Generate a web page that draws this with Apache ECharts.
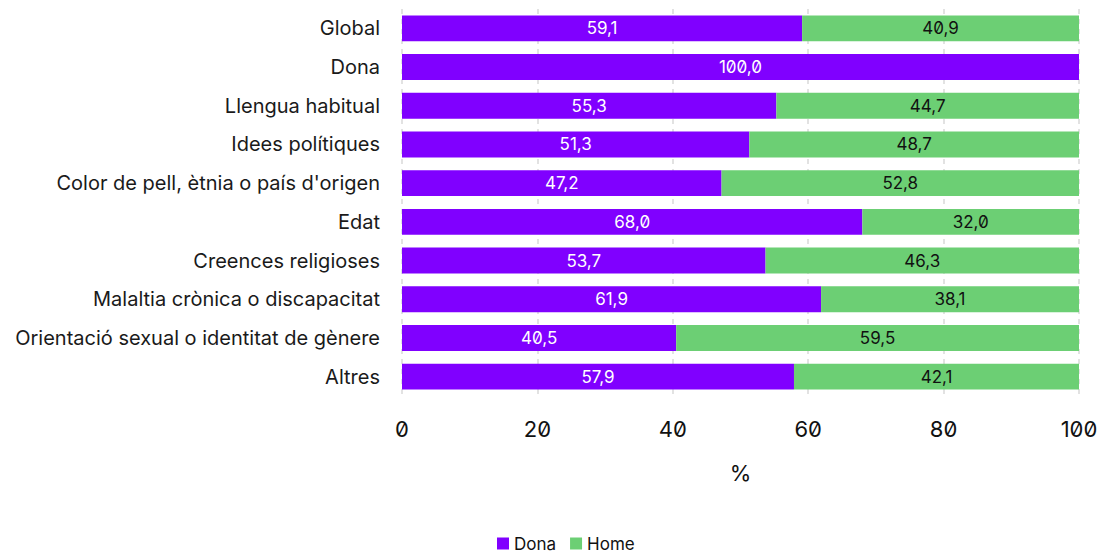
<!DOCTYPE html>
<html><head><meta charset="utf-8">
<script src="https://cdn.jsdelivr.net/npm/echarts@6/dist/echarts.min.js"></script>
<style>
html,body{margin:0;padding:0;background:#fff;}
#c{width:1105px;height:557px;}
#c text{font-feature-settings:"zero" 1;}
</style></head><body><div id="c"></div>
<script>
const categories = ["Global","Dona","Llengua habitual","Idees polítiques","Color de pell, ètnia o país d'origen","Edat","Creences religioses","Malaltia crònica o discapacitat","Orientació sexual o identitat de gènere","Altres"];
const dona = [59.1,100.0,55.3,51.3,47.2,68.0,53.7,61.9,40.5,57.9];
const home = [40.9,0,44.7,48.7,52.8,32.0,46.3,38.1,59.5,42.1];
const xTicks = [0,20,40,60,80,100];
const FONT = "Inter";
const fmt = p => p.value > 0 ? p.value.toFixed(1).replace('.', ',') : '';
const chart = echarts.init(document.getElementById('c'), null, {renderer:'svg'});
chart.setOption({
  animation:false,
  textStyle:{fontFamily:FONT},
  grid:{left:402,right:26,top:9,bottom:161},
  legend:{top:533,left:495,padding:2,itemWidth:12,itemHeight:12,itemGap:14,icon:'rect',
    textStyle:{fontSize:17,color:'#111',fontFamily:FONT}, data:['Dona','Home']},
  xAxis:{type:'value',min:0,max:100,interval:20,
    name:'%',nameLocation:'middle',nameGap:66,nameTextStyle:{fontSize:22,color:'#111',fontFamily:FONT},
    axisLine:{show:false},axisTick:{show:false},
    axisLabel:{fontSize:22,color:'#111',margin:22,fontFamily:FONT},
    splitLine:{show:true,lineStyle:{color:'#d9d9d9',type:[5,5],width:1.5}}},
  yAxis:{type:'category',data:categories,inverse:true,
    axisLine:{show:false},axisTick:{show:false},
    axisLabel:{fontSize:20,color:'#1a1a1a',margin:22,fontFamily:FONT}},
  series:[
    {name:'Dona',type:'bar',stack:'t',data:dona,barCategoryGap:'33%',
     itemStyle:{color:'#8000ff'},
     label:{show:true,position:'inside',color:'#fff',fontSize:17,fontFamily:FONT,formatter:fmt}},
    {name:'Home',type:'bar',stack:'t',data:home,
     itemStyle:{color:'#6ccf74'},
     label:{show:true,position:'inside',color:'#111',fontSize:17,fontFamily:FONT,formatter:fmt}}
  ]
});
</script></body></html>
